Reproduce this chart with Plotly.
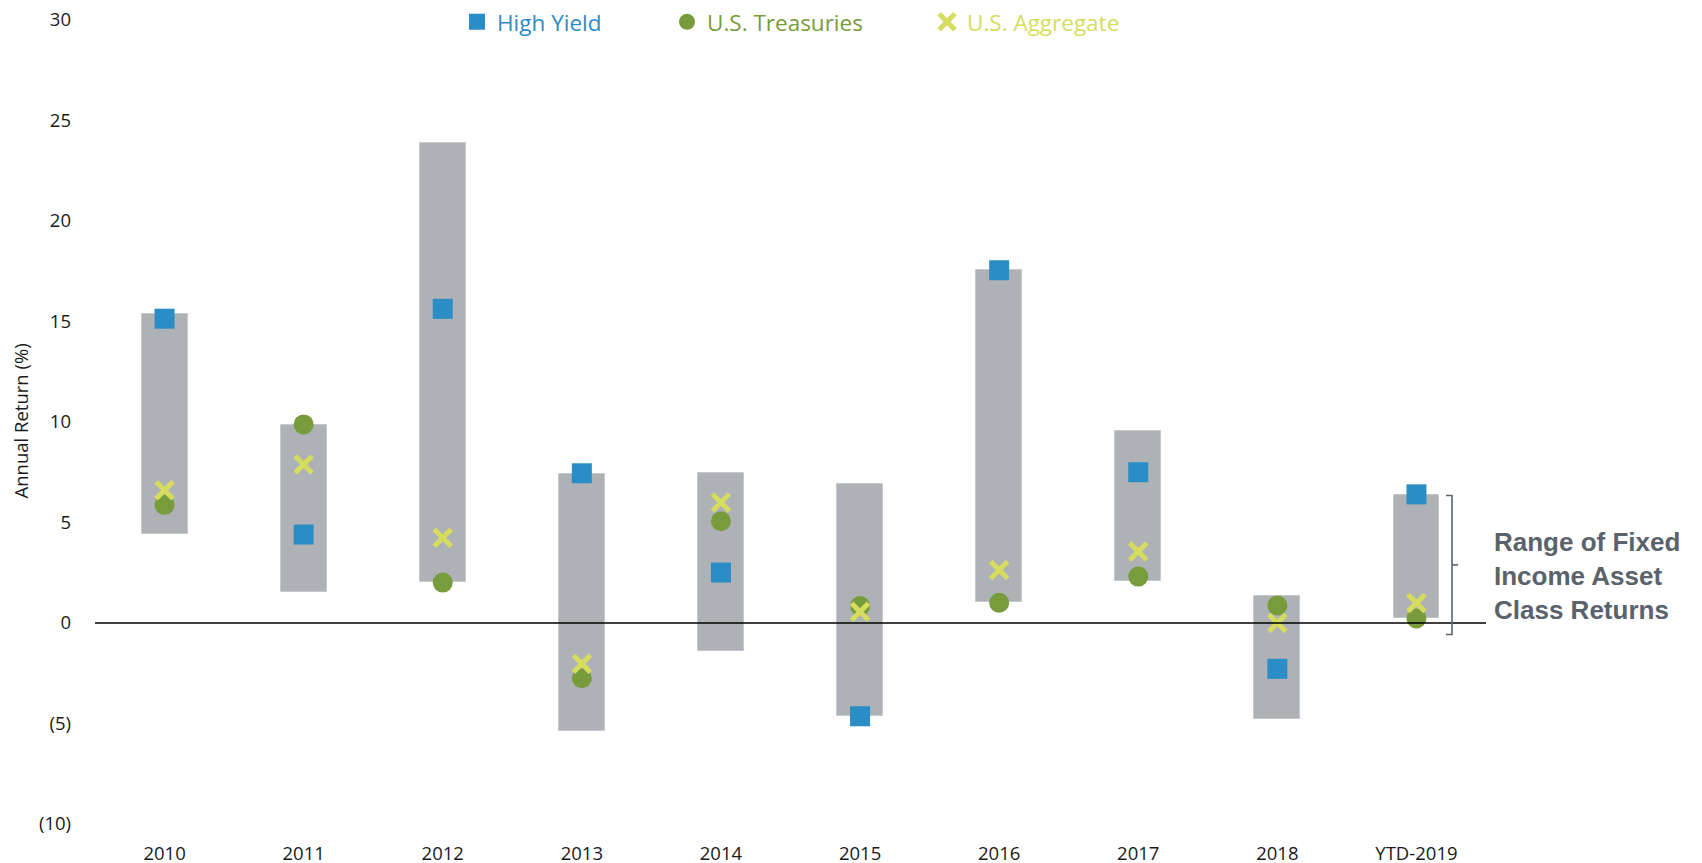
import plotly.graph_objects as go

categories = ["2010", "2011", "2012", "2013", "2014", "2015", "2016", "2017", "2018", "YTD-2019"]
range_min = [4.43, 1.54, 2.05, -5.38, -1.40, -4.64, 1.06, 2.11, -4.77, 0.24]
range_max = [15.35, 9.83, 23.86, 7.42, 7.47, 6.94, 17.55, 9.56, 1.32, 6.38]
high_yield = [15.14, 4.40, 15.63, 7.45, 2.51, -4.64, 17.55, 7.50, -2.28, 6.40]
treasuries = [5.88, 9.88, 2.01, -2.75, 5.06, 0.84, 1.01, 2.31, 0.87, 0.23]
aggregate = [6.60, 7.89, 4.24, -2.03, 6.00, 0.56, 2.64, 3.56, 0.00, 1.00]

y_tickvals = [-10, -5, 0, 5, 10, 15, 20, 25, 30]
y_ticktext = ["(10)", "(5)", "0", "5", "10", "15", "20", "25", "30"]

BLUE = "#2a8dc5"
GREEN = "#789b3c"
YELLOW = "#d6dc5e"
GRAY = "#aeb1b5"
NOTE = "#5a626b"

fig = go.Figure()

fig.add_trace(go.Bar(
    x=categories,
    y=[hi - lo for hi, lo in zip(range_max, range_min)],
    base=range_min,
    width=0.33,
    marker=dict(color=GRAY, line=dict(color="#c6c9cc", width=1)),
    showlegend=False,
    hoverinfo="skip",
))

fig.add_trace(go.Scatter(
    x=categories, y=high_yield, mode="markers", name="High Yield",
    marker=dict(symbol="square", size=20, color=BLUE),
    legend="legend",
))
fig.add_trace(go.Scatter(
    x=categories, y=treasuries, mode="markers", name="U.S. Treasuries",
    marker=dict(symbol="circle", size=20, color=GREEN),
    legend="legend2",
))
fig.add_trace(go.Scatter(
    x=categories, y=aggregate, mode="markers", name="U.S. Aggregate",
    marker=dict(symbol="x-thin", size=17, color=YELLOW, line=dict(color=YELLOW, width=5)),
    legend="legend3",
))

L = 95
R = 1486
T = 20
B = 824
PW = R - L

def leg(xpx, color):
    return dict(
        orientation="h", x=(xpx - L) / PW, xanchor="left",
        y=0.9973, yanchor="middle", bgcolor="rgba(0,0,0,0)",
        font=dict(family="Open Sans", size=22.5, color=color),
    )

fig.update_layout(
    width=1702, height=863,
    margin=dict(l=L, r=1702 - R, t=T, b=863 - B, autoexpand=False),
    plot_bgcolor="white", paper_bgcolor="white",
    bargap=0,
    legend=leg(457, BLUE),
    legend2=leg(667, GREEN),
    legend3=leg(927, YELLOW),
    xaxis=dict(
        type="category", range=[-0.5, 9.5], showgrid=False, zeroline=False,
        showline=False, ticks="",
        tickfont=dict(family="Open Sans", size=18.5, color="#1a1a1a"),
        ticklabelstandoff=16,
    ),
    yaxis=dict(
        range=[-10, 30], tickvals=y_tickvals, ticktext=y_ticktext,
        showgrid=False, zeroline=False, showline=False, ticks="",
        tickfont=dict(family="Open Sans", size=18.5, color="#1a1a1a"),
        ticklabelstandoff=23,
    ),
)

# zero line drawn over bars
fig.add_shape(type="line", xref="paper", x0=0, x1=1, yref="y", y0=0, y1=0,
              line=dict(color="black", width=1.6), layer="above")

# bracket
bx = (1452 - L) / PW
tk = 6 / PW
fig.add_shape(type="path", xref="paper", yref="y",
              path=f"M {bx - tk},6.34 L {bx},6.34 L {bx},-0.57 L {bx - tk},-0.57",
              line=dict(color=NOTE, width=1.6), layer="above")
fig.add_shape(type="line", xref="paper", yref="y", x0=bx, x1=bx + tk, y0=2.89, y1=2.89,
              line=dict(color=NOTE, width=1.6), layer="above")

fig.add_annotation(
    xref="paper", yref="y", x=(1492 - L) / PW, y=2.36, xanchor="left", yanchor="middle",
    text="Range of Fixed<br>Income Asset<br>Class Returns", showarrow=False, align="left",
    font=dict(family="Liberation Sans", size=26, color=NOTE, weight="bold"),
)

fig.add_annotation(
    xref="paper", yref="paper", x=(19.5 - L) / PW, y=(B - 421) / (B - T),
    text="Annual Return (%)", textangle=-90, showarrow=False,
    xanchor="center", yanchor="middle",
    font=dict(family="Open Sans", size=18.5, color="#1a1a1a"),
)

fig.write_html("out.html", config={"displayModeBar": False},
               post_script="document.body.style.margin='0';")
